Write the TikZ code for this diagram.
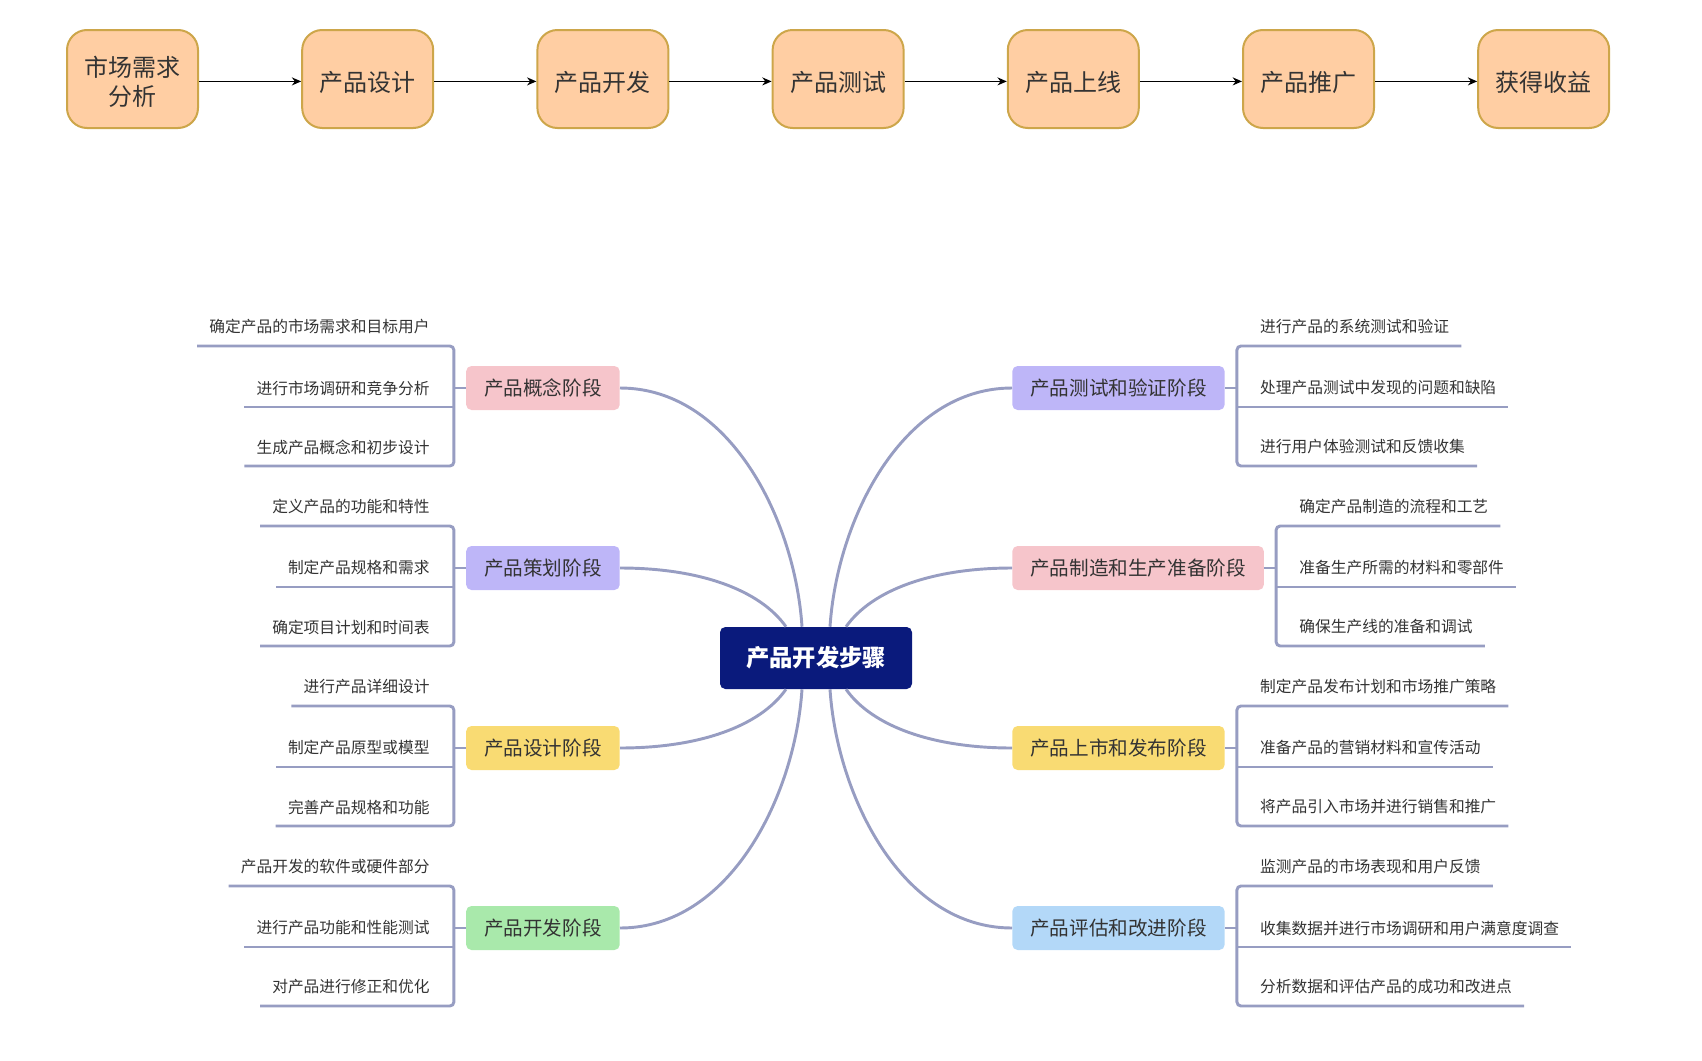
\documentclass[tikz,border=0pt]{standalone}
\usepackage{fontspec}
\setmainfont{Noto Sans CJK SC}
\usetikzlibrary{arrows.meta,calc}
\definecolor{peach}{HTML}{FFCEA3}
\definecolor{gold}{HTML}{CDA64A}
\definecolor{navy}{HTML}{0A1A7C}
\definecolor{brc}{HTML}{979DC2}
\definecolor{txt}{HTML}{333333}
\definecolor{cpink}{HTML}{F6C5CB}
\definecolor{cpurp}{HTML}{BEB6F8}
\definecolor{cyell}{HTML}{F9DB73}
\definecolor{cgreen}{HTML}{A9E9AB}
\definecolor{cblue}{HTML}{B3D8F8}
\newcommand\tbtext[1]{\raisebox{0pt}[\dimexpr\height+9.2pt\relax][\depth]{\begin{tabular}{@{}c@{}}#1\end{tabular}}}
\tikzset{
  topbox/.style={draw=gold, line width=1.5pt, fill=peach, rounded corners=15pt,
    minimum width=98.25pt, minimum height=73.5pt, inner sep=0pt, text=txt,
    font=\fontsize{18pt}{22pt}\selectfont},
  arr/.style={line width=1.1pt, -{Stealth[length=7pt,width=6pt]}, black},
  stage/.style={rounded corners=4pt, minimum height=33pt, inner xsep=13.5pt, inner ysep=0pt,
    text=txt, font=\fontsize{14.7pt}{17pt}\selectfont},
  leaf/.style={inner sep=0pt, text=txt, font=\fontsize{11.8pt}{14pt}\selectfont},
  branch/.style={draw=brc, line width=2.2pt},
  curv/.style={draw=brc, line width=2.2pt},
  center/.style={fill=navy, rounded corners=4pt, minimum width=144pt, minimum height=46.5pt,
    text=white, font=\fontsize{17.5pt}{20pt}\selectfont\bfseries}
}
\newcommand\mmLeft[7]{%
  \node[stage, fill=#3, anchor=east] (#1) at (620,#2) {#4};
  \coordinate (#1b) at ([xshift=-9pt]#1.west);
  \node[leaf, anchor=east] (#1t1) at ([xshift=-18pt, yshift=45.75pt]#1b) {#5};
  \node[leaf, anchor=east] (#1t2) at ([xshift=-18pt]#1b) {#6};
  \node[leaf, anchor=east] (#1t3) at ([xshift=-18pt, yshift=-44.25pt]#1b) {#7};
  \coordinate (#1e1) at ([xshift=-9pt, yshift=-14.25pt]#1t1.west);
  \coordinate (#1e2) at ([xshift=-9pt, yshift=-14.25pt]#1t2.west);
  \coordinate (#1e3) at ([xshift=-9pt, yshift=-14.25pt]#1t3.west);
  \draw[branch, rounded corners=3pt] (#1e1) -- (#1b |- #1e1) -- (#1b |- #1e3) -- (#1e3);
  \draw[branch] (#1b |- #1e2) -- (#1e2);
  \draw[branch] (#1.west) -- (#1b);
}
\newcommand\mmRight[7]{%
  \node[stage, fill=#3, anchor=west] (#1) at (1012,#2) {#4};
  \coordinate (#1b) at ([xshift=9pt]#1.east);
  \node[leaf, anchor=west] (#1t1) at ([xshift=17.25pt, yshift=45.75pt]#1b) {#5};
  \node[leaf, anchor=west] (#1t2) at ([xshift=17.25pt]#1b) {#6};
  \node[leaf, anchor=west] (#1t3) at ([xshift=17.25pt, yshift=-44.25pt]#1b) {#7};
  \coordinate (#1e1) at ([xshift=9pt, yshift=-14.25pt]#1t1.east);
  \coordinate (#1e2) at ([xshift=9pt, yshift=-14.25pt]#1t2.east);
  \coordinate (#1e3) at ([xshift=9pt, yshift=-14.25pt]#1t3.east);
  \draw[branch, rounded corners=3pt] (#1e1) -- (#1b |- #1e1) -- (#1b |- #1e3) -- (#1e3);
  \draw[branch] (#1b |- #1e2) -- (#1e2);
  \draw[branch] (#1.east) -- (#1b);
}
\begin{document}
\begin{tikzpicture}[x=0.75pt, y=-0.75pt]
\useasboundingbox (0,0) rectangle (1702,1060);
% top flow
\node[topbox] (p1) at (132.5,79) {\tbtext{市场需求\\分析}};
\node[topbox] (p2) at (367.7,79) {\tbtext{产品设计}};
\node[topbox] (p3) at (602.9,79) {\tbtext{产品开发}};
\node[topbox] (p4) at (838.1,79) {\tbtext{产品测试}};
\node[topbox] (p5) at (1073.3,79) {\tbtext{产品上线}};
\node[topbox] (p6) at (1308.5,79) {\tbtext{产品推广}};
\node[topbox] (p7) at (1543.7,79) {\tbtext{获得收益}};
\draw[arr] ([yshift=-1.8pt]p1.east) -- ([yshift=-1.8pt]p2.west);
\draw[arr] ([yshift=-1.8pt]p2.east) -- ([yshift=-1.8pt]p3.west);
\draw[arr] ([yshift=-1.8pt]p3.east) -- ([yshift=-1.8pt]p4.west);
\draw[arr] ([yshift=-1.8pt]p4.east) -- ([yshift=-1.8pt]p5.west);
\draw[arr] ([yshift=-1.8pt]p5.east) -- ([yshift=-1.8pt]p6.west);
\draw[arr] ([yshift=-1.8pt]p6.east) -- ([yshift=-1.8pt]p7.west);
% mind map
\node[center] (c) at (816,658) {产品开发步骤};
\coordinate (cn1) at ([xshift=-22.5pt]c.north);
\coordinate (cn2) at ([xshift=-10.5pt]c.north);
\coordinate (cn3) at ([xshift=10.5pt]c.north);
\coordinate (cn4) at ([xshift=22.5pt]c.north);
\coordinate (cs1) at ([xshift=-22.5pt]c.south);
\coordinate (cs2) at ([xshift=-10.5pt]c.south);
\coordinate (cs3) at ([xshift=10.5pt]c.south);
\coordinate (cs4) at ([xshift=22.5pt]c.south);

\mmLeft{a}{388}{cpink}{产品概念阶段}{确定产品的市场需求和目标用户}{进行市场调研和竞争分析}{生成产品概念和初步设计}
\mmLeft{b}{568}{cpurp}{产品策划阶段}{定义产品的功能和特性}{制定产品规格和需求}{确定项目计划和时间表}
\mmLeft{d}{748}{cyell}{产品设计阶段}{进行产品详细设计}{制定产品原型或模型}{完善产品规格和功能}
\mmLeft{e}{928}{cgreen}{产品开发阶段}{产品开发的软件或硬件部分}{进行产品功能和性能测试}{对产品进行修正和优化}
\mmRight{f}{388}{cpurp}{产品测试和验证阶段}{进行产品的系统测试和验证}{处理产品测试中发现的问题和缺陷}{进行用户体验测试和反馈收集}
\mmRight{g}{568}{cpink}{产品制造和生产准备阶段}{确定产品制造的流程和工艺}{准备生产所需的材料和零部件}{确保生产线的准备和调试}
\mmRight{h}{748}{cyell}{产品上市和发布阶段}{制定产品发布计划和市场推广策略}{准备产品的营销材料和宣传活动}{将产品引入市场并进行销售和推广}
\mmRight{k}{928}{cblue}{产品评估和改进阶段}{监测产品的市场表现和用户反馈}{收集数据并进行市场调研和用户满意度调查}{分析数据和评估产品的成功和改进点}

\draw[curv] (a.east) .. controls (730,388) and (795,520) .. (cn2);
\draw[curv] (b.east) .. controls (700,568) and (760,590) .. (cn1);
\draw[curv] (d.east) .. controls (700,748) and (760,726) .. (cs1);
\draw[curv] (e.east) .. controls (730,928) and (795,796) .. (cs2);
\draw[curv] (f.west) .. controls (902,388) and (837,520) .. (cn3);
\draw[curv] (g.west) .. controls (932,568) and (872,590) .. (cn4);
\draw[curv] (h.west) .. controls (932,748) and (872,726) .. (cs4);
\draw[curv] (k.west) .. controls (902,928) and (837,796) .. (cs3);
\end{tikzpicture}
\end{document}
